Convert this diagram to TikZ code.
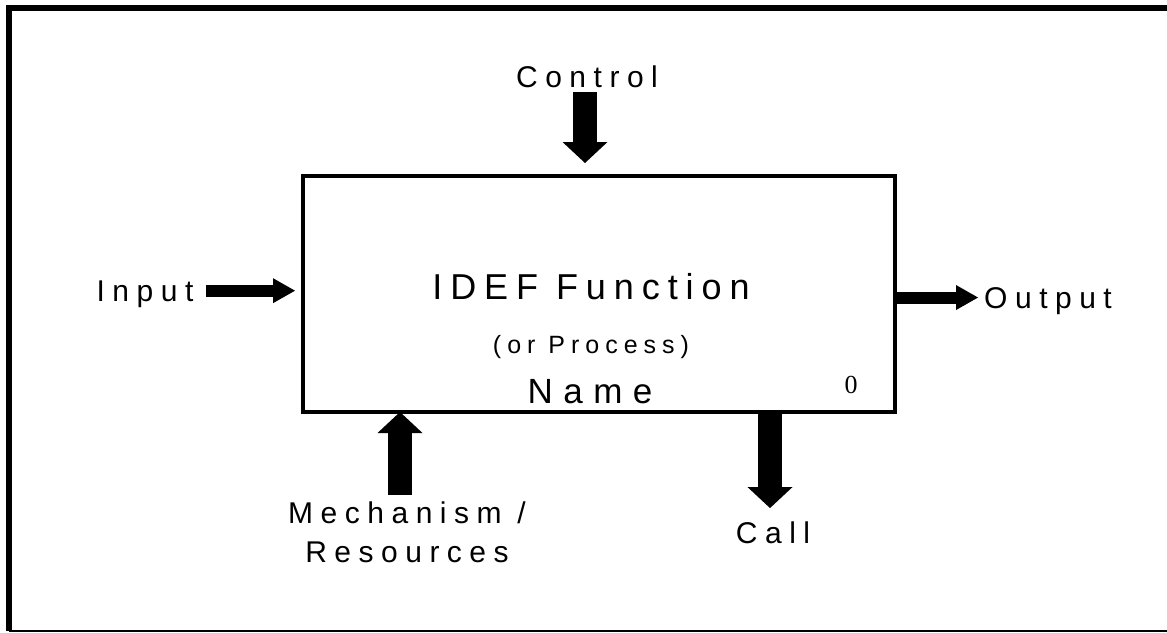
\documentclass[tikz,border=0pt]{standalone}
\usepackage{fontspec}
\setmainfont{Liberation Sans}
\newfontfamily\lblfont[LetterSpace=25]{Liberation Sans}
\newfontfamily\titlefont[LetterSpace=22]{Liberation Sans}
\newfontfamily\subfont[LetterSpace=24]{Liberation Sans}
\newfontfamily\namefont[LetterSpace=30]{Liberation Sans}
\newfontfamily\numfont{Liberation Serif}
\usetikzlibrary{arrows.meta}

\begin{document}
\begin{tikzpicture}[x=1pt, y=-1pt,
	lbl/.style={inner sep=0pt, anchor=base, font=\lblfont\fontsize{30}{39}\selectfont},
	vblock/.style={line width=24pt, -{Triangle[length=21pt, width=45pt, line width=0pt]}},
	hblock/.style={line width=12pt, -{Triangle[length=22pt, width=25pt, line width=0pt]}}]
	\useasboundingbox (0,0) rectangle (1167,632);
	\draw[line width=6pt] (9,631) -- (9,8) -- (1167,8);
	\draw[line width=1.5pt] (9,631) -- (1167,631);

	\node[draw, line width=4pt, outer sep=0pt, inner sep=0pt, minimum width=592pt, minimum height=236pt] (fn) at (599,294) {};
	\node[inner sep=0pt, anchor=base, font=\titlefont\fontsize{36}{40}\selectfont] (title) at (591,299) {IDEF Function};
	\node[inner sep=0pt, anchor=base, font=\subfont\fontsize{25}{28}\selectfont] (sub) at (591,353) {(or Process)};
	\node[inner sep=0pt, anchor=base, font=\namefont\fontsize{35}{40}\selectfont] (name) at (590,403) {Name};
	\node[inner sep=0pt, anchor=base, font=\numfont\fontsize{26}{30}\selectfont] (num) at (851,393) {0};

	\node[lbl] (ctl) at (587,87) {Control};
	\node[lbl, text depth=0pt] (inp) at (145,301) {Input};
	\node[lbl, text depth=0pt] (out) at (1048,308) {Output};
	\node[lbl, align=center] (mech) at (407,562) {Mechanism /\\Resources};
	\node[lbl] (call) at (773,543) {Call};

	\draw[vblock, shorten <=5pt, shorten >=13pt] ([xshift=-2pt]ctl.base) -- ([xshift=-2pt]ctl.base |- fn.north);
	\draw[hblock, shorten <=12pt, shorten >=8pt] (inp.east) -- (inp.east -| fn.west);
	\draw[hblock, shorten >=6pt] (out.west -| fn.east) -- (out.west);
	\draw[vblock, shorten <=6pt] ([xshift=-7pt]mech.north) -- ([xshift=-7pt]mech.north |- fn.south);
	\draw[vblock, shorten >=13pt] ([xshift=-3pt]call.north |- fn.south) -- ([xshift=-3pt]call.north);
\end{tikzpicture}
\end{document}
